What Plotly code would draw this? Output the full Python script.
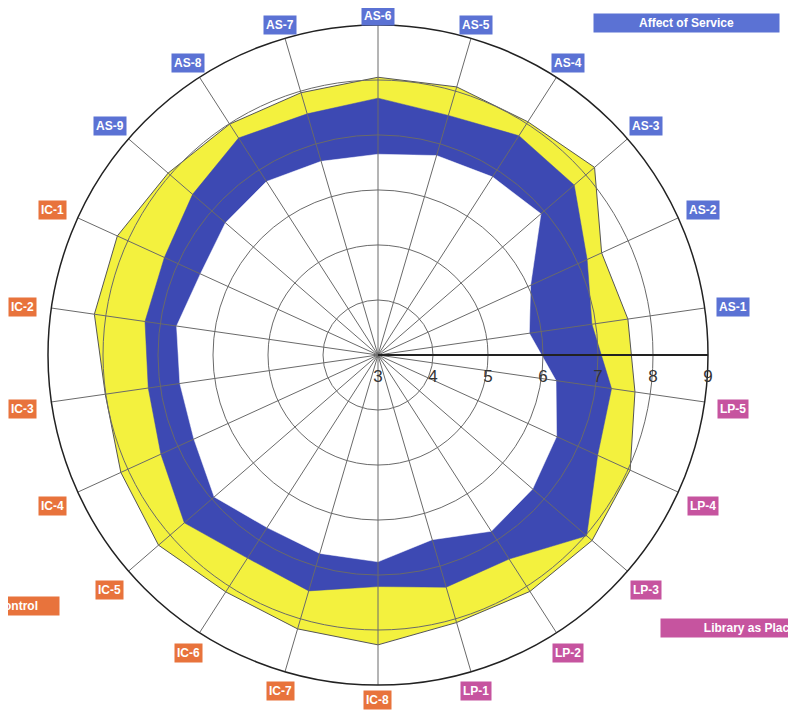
import math
import plotly.graph_objects as go

# ---- data ----
categories = ["AS-1", "AS-2", "AS-3", "AS-4", "AS-5", "AS-6", "AS-7", "AS-8", "AS-9",
              "IC-1", "IC-2", "IC-3", "IC-4", "IC-5", "IC-6", "IC-7", "IC-8",
              "LP-1", "LP-2", "LP-3", "LP-4", "LP-5"]
minimum = [5.78, 6.05, 6.92, 6.85, 6.78, 6.65, 6.67, 6.75, 6.67,
           6.55, 6.70, 6.64, 6.68, 6.94, 6.73, 6.76, 6.76,
           6.50, 6.81, 6.72, 6.57, 6.27]
perceived = [6.93, 7.18, 7.72, 7.74, 7.54, 7.67, 7.57, 7.69, 7.46,
             7.27, 7.28, 7.22, 7.34, 7.66, 7.39, 7.47, 7.21,
             7.40, 7.41, 8.02, 7.39, 7.29]
desired = [7.59, 7.47, 8.21, 8.04, 8.08, 8.05, 7.97, 7.99, 8.05,
           8.21, 8.21, 8.01, 8.14, 8.28, 8.12, 8.19, 8.27,
           8.07, 8.11, 8.15, 8.04, 7.72]
radial_ticks = [3, 4, 5, 6, 7, 8, 9]
dimensions = ["Affect of Service", "Information Control", "Library as Place"]

# ---- style ----
W, H = 796, 714
OFF = 8  # page body margin
CX, CY, R = 378 - OFF, 355 - OFF, 330
YELLOW = "#f3f13e"
BLUE = "#3d49b3"
GRID = "#6a6a6a"
DIM_COLORS = {"AS": "#5b72d4", "IC": "#e8733c", "LP": "#c6549f"}
FONT = "Liberation Sans, Arial, sans-serif"
ROT = 360 / len(categories) / 2


def closed(v):
    return list(v) + [v[0]]


theta = closed(categories)

fig = go.Figure()
fig.add_trace(go.Scatterpolar(r=closed(desired), theta=theta, fill="toself",
                              fillcolor=YELLOW, mode="lines",
                              line=dict(color="#555555", width=1), hoverinfo="skip"))
fig.add_trace(go.Scatterpolar(r=closed(perceived), theta=theta, fill="toself",
                              fillcolor=BLUE, mode="lines",
                              line=dict(color=BLUE, width=0.5), hoverinfo="skip"))
fig.add_trace(go.Scatterpolar(r=closed(minimum), theta=theta, fill="toself",
                              fillcolor="white", mode="lines",
                              line=dict(color="white", width=0.5), hoverinfo="skip"))
# overlay subplot that carries the grid above the filled areas
fig.add_trace(go.Scatterpolar(r=[3] * len(categories), theta=categories, subplot="polar2",
                              mode="lines", line=dict(width=0, color="rgba(0,0,0,0)"),
                              hoverinfo="skip"))

annotations = []
n = len(categories)
for i, c in enumerate(categories):
    a = math.radians(ROT + i * 360 / n)
    rr = R + 12 + 17 * abs(math.cos(a))
    px = CX + rr * math.cos(a)
    py = CY + 3 - rr * math.sin(a)
    annotations.append(dict(
        x=px / W, y=1 - py / H, xref="paper", yref="paper", showarrow=False,
        text="<b>" + c + "</b>", font=dict(family=FONT, size=12, color="white"),
        bgcolor=DIM_COLORS[c[:2]], borderpad=2, xanchor="center", yanchor="middle"))

# dimension boxes
annotations.append(dict(x=(686 - OFF) / W, y=1 - (23 - OFF) / H, xref="paper", yref="paper",
                        showarrow=False, text="<b>" + dimensions[0] + "</b>", width=183, height=16,
                        font=dict(family=FONT, size=12, color="white"),
                        bgcolor=DIM_COLORS["AS"], xanchor="center", yanchor="middle"))
annotations.append(dict(x=(60 - OFF) / W, y=1 - (606 - OFF) / H, xref="paper", yref="paper",
                        showarrow=False, text="<b>" + dimensions[1] + "</b>", width=152, height=16,
                        font=dict(family=FONT, size=12, color="white"),
                        bgcolor=DIM_COLORS["IC"], xanchor="right", yanchor="middle"))
annotations.append(dict(x=(660 - OFF) / W, y=1 - (628 - OFF) / H, xref="paper", yref="paper",
                        showarrow=False, text="<b>" + dimensions[2] + "</b>", width=176, height=16,
                        font=dict(family=FONT, size=12, color="white"),
                        bgcolor=DIM_COLORS["LP"], xanchor="left", yanchor="middle"))

domain = dict(x=[(CX - R) / W, (CX + R) / W], y=[1 - (CY + R) / H, 1 - (CY - R) / H])

fig.update_layout(
    width=W, height=H,
    margin=dict(l=0, r=0, t=0, b=0),
    paper_bgcolor="white",
    showlegend=False,
    annotations=annotations,
    polar=dict(
        domain=domain,
        bgcolor="white",
        radialaxis=dict(range=[3, 9], showgrid=False, showline=False, showticklabels=False,
                        ticks=""),
        angularaxis=dict(type="category", categoryarray=categories, rotation=ROT,
                         direction="counterclockwise", showticklabels=False, ticks="",
                         showgrid=False, showline=False),
    ),
    polar2=dict(
        domain=domain,
        bgcolor="rgba(0,0,0,0)",
        radialaxis=dict(range=[3, 9], tickvals=radial_ticks, ticktext=[str(t) for t in radial_ticks],
                        angle=0, tickangle=0, showline=True, linecolor="#222222", linewidth=2,
                        gridcolor=GRID, gridwidth=0.8, ticks="outside", ticklen=6,
                        tickcolor="rgba(0,0,0,0)",
                        tickfont=dict(family=FONT, size=17, color="#333333")),
        angularaxis=dict(type="category", categoryarray=categories, rotation=ROT,
                         direction="counterclockwise", showticklabels=False, ticks="",
                         gridcolor=GRID, gridwidth=0.8, showline=True,
                         linecolor="#222222", linewidth=1.5),
    ),
)

fig.write_html("out.html")
